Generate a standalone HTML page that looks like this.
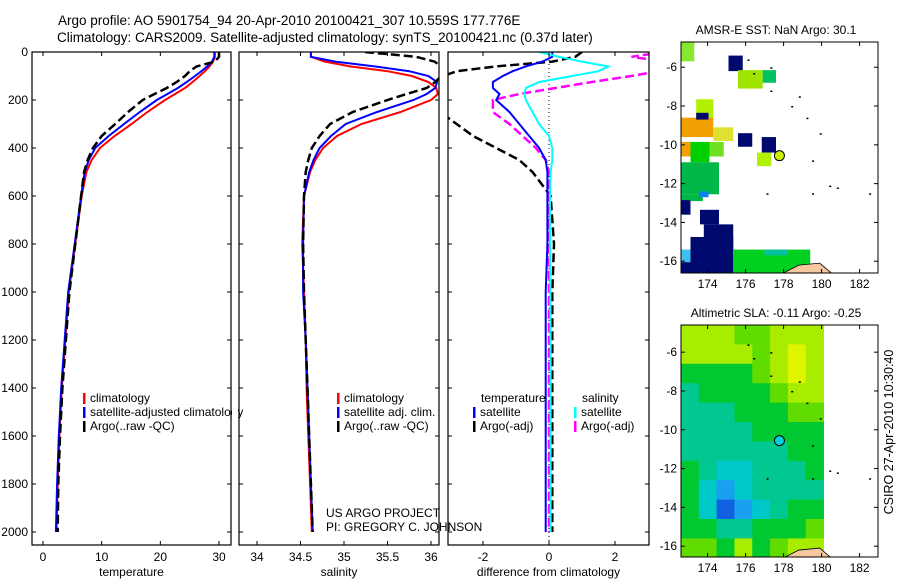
<!DOCTYPE html>
<html><head><meta charset="utf-8"><style>
html,body{margin:0;padding:0;background:#fff;}
svg{display:block;font-family:"Liberation Sans",Arial,sans-serif;}
</style></head><body>
<svg id="chart" width="900" height="580" viewBox="0 0 900 580">
<text x="58" y="25" font-size="13.5">Argo profile: AO 5901754_94 20-Apr-2010 20100421_307 10.559S 177.776E</text>
<text x="57" y="42" font-size="13.5">Climatology: CARS2009. Satellite-adjusted climatology: synTS_20100421.nc (0.37d later)</text>
<text transform="translate(893,432) rotate(-90)" text-anchor="middle" font-size="12.5">CSIRO 27-Apr-2010 10:30:40</text>
</svg>
<script>
// ---- data ----
const depths = [0,20,40,60,80,100,125,150,175,200,250,300,350,400,450,500,600,800,1000,1200,1400,1600,1800,2000];
const tempClim = [29.3,29.3,29.0,28.4,27.6,26.7,25.5,24.2,22.5,20.8,17.8,15.1,12.2,9.7,8.3,7.4,6.6,5.5,4.4,3.8,3.2,2.8,2.5,2.3];
const tempSat = [29.2,29.2,28.8,28.0,27.0,25.9,24.5,23.0,21.2,19.4,16.5,13.8,11.2,8.9,7.8,7.1,6.5,5.4,4.3,3.7,3.1,2.7,2.4,2.2];
const tempArgo = [30.0,30.0,29.3,26.2,25.0,24.2,22.8,21.1,19.0,17.0,14.5,12.3,10.0,8.5,7.6,7.0,6.5,5.5,4.5,3.9,3.3,2.9,2.6,2.5];
const salClim = [34.62,34.62,34.78,35.07,35.5,35.78,35.97,36.06,36.08,36.0,35.65,35.2,34.92,34.76,34.67,34.61,34.54,34.52,34.54,34.56,34.57,34.59,34.61,34.63];
const salSat = [34.62,34.62,34.9,35.35,35.75,35.97,36.07,36.05,35.95,35.8,35.38,35.02,34.85,34.72,34.65,34.6,34.54,34.53,34.53,34.56,34.58,34.6,34.62,34.64];
const salArgo = [35.24,35.83,36.04,36.12,36.12,36.12,36.05,35.95,35.72,35.5,35.1,34.84,34.72,34.63,34.59,34.56,34.54,34.53,34.54,34.56,34.58,34.6,34.62,34.64];
const diffTempSat = [0.1,0.1,-0.2,-0.7,-1.1,-1.4,-1.7,-1.7,-1.5,-1.6,-1.2,-0.9,-0.6,-0.3,-0.1,-0.05,-0.05,-0.05,-0.1,-0.1,-0.1,-0.1,-0.1,-0.1];
const diffSalSat = [-0.3,0.3,1.0,1.8,1.5,0.7,-0.3,-0.7,-0.75,-0.7,-0.5,-0.3,0.0,0.1,0.1,0.05,0.03,0.03,0.04,0.05,0.05,0.05,0.05,0.05];
const diffSalArgo = [3.5,2.5,3.5,3.5,3.3,2.5,1.3,0.2,-0.9,-1.7,-1.7,-1.2,-0.8,-0.4,-0.1,0,0,0,0,0,0,0,0,0];
const diffTempArgo = [1.0,0.8,0.1,-1.6,-2.8,-3.2,-3.3,-3.3,-3.3,-3.3,-3.3,-2.8,-2.3,-1.6,-0.9,-0.5,0.05,0.15,0.1,0.1,0.1,0.1,0.1,0.1];
const depthTicks = [0,200,400,600,800,1000,1200,1400,1600,1800,2000];
const tempTicks = [0,10,20,30];
const salTicks = [34,34.5,35,35.5,36];
const diffTicks = [-2,0,2];
const latTicks = [-6,-8,-10,-12,-14,-16];
const lonTicks = [174,176,178,180,182];
// SST map cells: [lon0, lon1, lat0(top), lat1(bottom), colour]
const sstCells = [
 [172.6,173.3,-4.7,-5.7,'#88e830'],[175.1,175.85,-5.4,-6.2,'#000a6e'],[175.6,176.9,-6.15,-7.1,'#a0e400'],
 [176.9,177.6,-6.15,-6.8,'#00c060'],[173.4,174.3,-7.65,-8.7,'#b0f000'],[172.6,174.3,-8.6,-9.6,'#f0a000'],
 [173.4,174.05,-8.35,-8.7,'#000a6e'],[174.3,175.35,-9.1,-9.8,'#e0e030'],[175.6,176.35,-9.4,-10.1,'#000a6e'],
 [176.85,177.6,-9.6,-10.4,'#000a6e'],[176.6,177.35,-10.4,-11.1,'#b0f000'],[174.1,174.85,-9.85,-10.6,'#70e020'],
 [172.6,173.1,-9.85,-10.6,'#f0a000'],[173.1,174.1,-9.85,-10.9,'#00d000'],[172.6,174.6,-10.9,-12.55,'#00b848'],
 [172.6,173.75,-12.55,-12.9,'#00b848'],[173.55,174.05,-12.4,-12.7,'#1080f0'],[172.6,173.1,-12.85,-13.6,'#000a6e'],
 [173.6,174.6,-13.35,-14.1,'#000a6e'],[173.8,175.35,-14.1,-15.4,'#000a6e'],[173.1,175.35,-14.75,-16.6,'#000a6e'],
 [172.6,173.1,-15.4,-16.05,'#40c0f0'],[172.6,173.1,-16.05,-16.6,'#000a6e'],[175.35,179.4,-15.4,-16.6,'#00d020'],
 [177.0,178.2,-15.4,-15.7,'#00c0a0']
];
// SLA grid: rows top->bottom (lat -4.6 .. -16.6), cols lon 172.6 .. 180.1; colour class index
const slaLevels = ['#e0f400','#a8ec00','#60dc00','#00c830','#00c890','#00c8c8','#1aa0f0','#1060e0'];
const slaGrid = [
 [1,1,1,2,2,1,1,1],[1,1,1,1,2,1,0,1],[3,3,3,3,2,1,0,1],[4,3,3,3,3,2,1,1],
 [4,4,4,3,3,3,2,2],[4,4,4,4,3,3,3,3],[4,4,4,4,4,4,3,3],[3,4,5,5,4,4,4,3],
 [3,5,6,5,4,4,4,4],[3,5,7,6,5,4,3,3],[3,3,4,4,3,3,3,2],[2,2,3,1,3,2,1,1]
];
const argoLon = 177.78, argoLat = -10.56;
const islands = [[176.1,-5.6],[177.3,-7.2],[178.8,-7.5],[178.4,-8.0],[179.2,-8.6],[179.9,-9.4],[179.5,-10.8],[180.4,-12.1],[180.8,-12.2],[177.1,-12.5],[179.5,-12.5],[182.5,-12.5],[176.4,-6.3],[177.3,-6.0]];

// ---- drawing ----
const svg = document.getElementById('chart');
const NS = 'http://www.w3.org/2000/svg';
function mk(tag, attrs, parent){const e=document.createElementNS(NS,tag);for(const k in attrs)e.setAttribute(k,attrs[k]);(parent||svg).appendChild(e);return e;}
const Y0=52, DY=0.24;
const yD = d => Y0 + d*DY;
const panels = [
 {name:'temperature',x0:32,x1:231,v0:0,px0:43,scale:5.867,ticks:tempTicks,label:'temperature',
  series:[[tempClim,'#ff0000',''],[tempSat,'#0000ff',''],[tempArgo,'#000000','9,4']]},
 {name:'salinity',x0:239,x1:439,v0:34,px0:257,scale:87,ticks:salTicks,label:'salinity',
  series:[[salClim,'#ff0000',''],[salSat,'#0000ff',''],[salArgo,'#000000','9,4']]},
 {name:'difference',x0:448,x1:649,v0:0,px0:549,scale:33,ticks:diffTicks,label:'difference from climatology',
  series:[[diffTempArgo,'#000000','9,4'],[diffSalArgo,'#ff00ff','9,4'],[diffTempSat,'#0000ff',''],[diffSalSat,'#00ffff','']]}
];
const PB=545;
panels.forEach((p,i)=>{
  const xv = v => p.px0 + (v-p.v0)*p.scale;
  const g = mk('g',{});
  
  
  const cp = mk('clipPath',{id:'cp'+i},g); mk('rect',{x:p.x0,y:Y0,width:p.x1-p.x0,height:PB-Y0},cp);
  if(i===2){const z=mk('line',{x1:xv(0),x2:xv(0),y1:Y0,y2:PB,stroke:'#000','stroke-width':1,'stroke-dasharray':'1,3'},g);
    
    }
  p.series.forEach((s,si)=>{
    const pts = depths.map((d,k)=>xv(s[0][k]).toFixed(1)+','+yD(d).toFixed(1)).join(' ');
    const l = mk('polyline',{points:pts,fill:'none',stroke:s[1],'stroke-width':s[2]?2.5:2,'stroke-dasharray':s[2],'clip-path':'url(#cp'+i+')'},g);
    
    
  });
  mk('rect',{x:p.x0,y:Y0,width:p.x1-p.x0,height:PB-Y0,fill:'none',stroke:'#000','stroke-width':1.2},g);
  p.ticks.forEach(t=>{
    const x=xv(t);
    mk('line',{x1:x,x2:x,y1:PB,y2:PB-4,stroke:'#000'},g);
    mk('line',{x1:x,x2:x,y1:Y0,y2:Y0+4,stroke:'#000'},g);
    const tl=mk('text',{x:x,y:561,'text-anchor':'middle','font-size':12},g); tl.textContent=t;
    
    
  });
  depthTicks.forEach(d=>{
    mk('line',{x1:p.x0,x2:p.x0+4,y1:yD(d),y2:yD(d),stroke:'#000'},g);
    mk('line',{x1:p.x1,x2:p.x1-4,y1:yD(d),y2:yD(d),stroke:'#000'},g);
    if(i===0){const tl=mk('text',{x:28,y:yD(d)+4,'text-anchor':'end','font-size':12},g); tl.textContent=d;
      
      }
  });
  const xl=mk('text',{x:(p.x0+p.x1)/2,y:576,'text-anchor':'middle','font-size':12},g); xl.textContent=p.label;
  
  
});
function legend(x,y,color,label){
  const g=mk('g',{});
  
  
  mk('rect',{x:x,y:y-9,width:2.5,height:11,fill:color},g);
  const t=mk('text',{x:x+7,y:y,'font-size':12},g); t.textContent=label;
}
legend(83,402,'#ff0000','climatology');legend(83,416,'#0000ff','satellite-adjusted climatology');legend(83,430,'#000','Argo(..raw -QC)');
legend(337,402,'#ff0000','climatology');legend(337,416,'#0000ff','satellite adj. clim.');legend(337,430,'#000','Argo(..raw -QC)');
legend(473,416,'#0000ff','satellite');legend(473,430,'#000','Argo(-adj)');
legend(574,416,'#00ffff','satellite');legend(574,430,'#ff00ff','Argo(-adj)');
[[481,402,'temperature'],[582,402,'salinity'],[326,517,'US ARGO PROJECT'],[326,531,'PI: GREGORY C. JOHNSON']].forEach(a=>{
  const t=mk('text',{x:a[0],y:a[1],'font-size':12}); t.textContent=a[2];
  
  
});
// clip text overflow from panel1 legend into panel2 gap
mk('rect',{x:232,y:405,width:6,height:14,fill:'#fff'});

// ---- maps ----
function drawMap(top,bottom,title,name){
  const MX0=681,MX1=878, LON0=172.6, LX=19, LAT0=(top===42)?-4.7:-4.6, LY=19.4;
  const xl = lon => MX0+(lon-LON0)*LX;
  const yl = lat => top+(LAT0-lat)*LY;
  const g=mk('g',{});
  
  
  const cid='mc'+top; const cp=mk('clipPath',{id:cid},g); mk('rect',{x:MX0,y:top,width:MX1-MX0,height:bottom-top},cp);
  const cg=mk('g',{'clip-path':'url(#'+cid+')'},g);
  if(name==='sst-map'){
    sstCells.forEach(c=>{const r=mk('rect',{x:xl(c[0]),y:yl(c[2]),width:(c[1]-c[0])*LX,height:(c[2]-c[3])*LY,fill:c[4]},cg);
      
      });
  } else {
    const cw=(180.1-172.6)/8, ch=12/12;
    slaGrid.forEach((row,ri)=>row.forEach((v,ci)=>{
      const r=mk('rect',{x:xl(172.6+ci*cw),y:yl(LAT0-ri*ch),width:cw*LX+0.5,height:ch*LY+0.5,fill:slaLevels[v]},cg);
      
      
    }));
  }
  islands.forEach(s=>mk('rect',{x:xl(s[0]),y:yl(s[1]),width:2,height:1.5,fill:'#000'},cg));
  mk('path',{d:`M${xl(178)} ${yl(-16.6)} L${xl(178.8)} ${yl(-16.2)} L${xl(179.9)} ${yl(-16.1)} L${xl(180.5)} ${yl(-16.6)} Z`,fill:'#f5c8a0',stroke:'#000','stroke-width':0.8},cg);
  const dot=mk('circle',{cx:xl(argoLon),cy:yl(argoLat),r:5,fill:name==='sst-map'?'#c8f000':'#00d0e0',stroke:'#000','stroke-width':1},g);
  
  
  mk('rect',{x:MX0,y:top,width:MX1-MX0,height:bottom-top,fill:'none',stroke:'#000','stroke-width':1},g);
  latTicks.forEach(l=>{const y=yl(l);
    mk('line',{x1:MX0,x2:MX0+4,y1:y,y2:y,stroke:'#000'},g);mk('line',{x1:MX1,x2:MX1-4,y1:y,y2:y,stroke:'#000'},g);
    const t=mk('text',{x:677,y:y+4,'text-anchor':'end','font-size':12},g);t.textContent=l;
    
    });
  lonTicks.forEach(l=>{const x=xl(l);
    mk('line',{x1:x,x2:x,y1:bottom,y2:bottom-4,stroke:'#000'},g);mk('line',{x1:x,x2:x,y1:top,y2:top+4,stroke:'#000'},g);
    const t=mk('text',{x:x,y:bottom+15,'text-anchor':'middle','font-size':12},g);t.textContent=l;
    
    });
  const tt=mk('text',{x:776,y:top-8,'text-anchor':'middle','font-size':12},g);tt.textContent=title;
  
  
}
drawMap(42,273,'AMSR-E SST: NaN Argo: 30.1','sst-map');
drawMap(325,557,'Altimetric SLA: -0.11 Argo: -0.25','sla-map');
</script>
</body></html>
